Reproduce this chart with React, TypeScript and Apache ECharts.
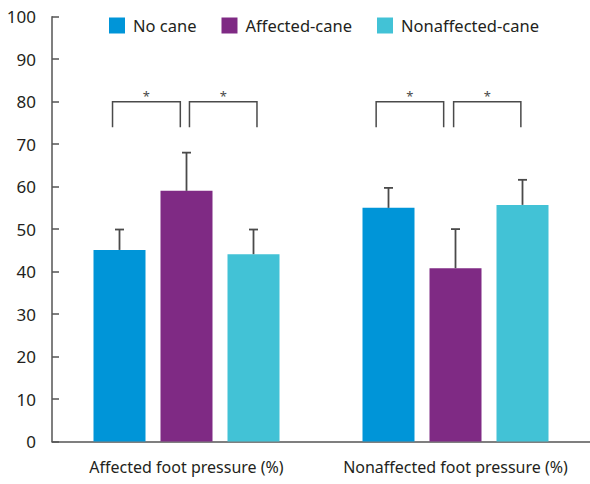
import React, { useEffect, useRef } from "react";
import * as echarts from "echarts";

const categories = ["Affected foot pressure (%)", "Nonaffected foot pressure (%)"];
const seriesNames = ["No cane", "Affected-cane", "Nonaffected-cane"];
const noCane = [45.1, 55.0];
const affectedCane = [59.0, 40.8];
const nonaffectedCane = [44.1, 55.7];
const noCaneErr = [4.8, 4.7];
const affectedCaneErr = [9.0, 9.2];
const nonaffectedCaneErr = [5.8, 5.9];
const yTicks = [0, 100, 10]; // min, max, interval
// [category index, start offset, end offset] in category-band units
const brackets = [
  [0, -0.275, -0.023],
  [0, 0.011, 0.262],
  [1, -0.295, -0.044],
  [1, -0.007, 0.243],
];
const bracketTop = 80;
const bracketLeg = 74;
const bracketLabel = "*";

const colors = ["#0095d8", "#7f2a84", "#42c2d6"];
const FONT = "Noto Sans";
const BAR_W = 52;
const GAP = 15;

export default function App() {
  const ref = useRef<HTMLDivElement>(null);
  useEffect(() => {
    document.body.style.margin = "0";
    const chart = echarts.init(ref.current!, null, { renderer: "svg" });
    const values = [noCane, affectedCane, nonaffectedCane];
    const errs = [noCaneErr, affectedCaneErr, nonaffectedCaneErr];

    const barSeries = values.map((v, i) => ({
      type: "bar",
      name: seriesNames[i],
      data: v,
      barWidth: BAR_W,
      barGap: (GAP / BAR_W) * 100 + "%",
      itemStyle: { color: colors[i] },
      z: 2,
    }));

    const errSeries = values.map((v, i) => ({
      type: "custom",
      name: "err" + i,
      data: v.map((val, k) => [k, val, errs[i][k]]),
      z: 3,
      renderItem: (params: any, api: any) => {
        const cat = api.value(0);
        const val = api.value(1);
        const e = api.value(2);
        const top = api.coord([cat, val + e]);
        const base = api.coord([cat, val]);
        const x = top[0] + (i - 1) * (BAR_W + GAP);
        const style = { stroke: "#4a4a4a", lineWidth: 1.8 };
        return {
          type: "group",
          children: [
            { type: "line", shape: { x1: x, y1: base[1], x2: x, y2: top[1] }, style },
            { type: "line", shape: { x1: x - 4.5, y1: top[1], x2: x + 4.5, y2: top[1] }, style },
          ],
        };
      },
    }));

    const bracketSeries = {
      type: "custom",
      name: "brackets",
      data: brackets,
      z: 4,
      renderItem: (params: any, api: any) => {
        const cat = api.value(0);
        const band = api.size([1, 0])[0];
        const c = api.coord([cat, bracketTop]);
        const leg = api.coord([cat, bracketLeg]);
        const x1 = c[0] + api.value(1) * band;
        const x2 = c[0] + api.value(2) * band;
        const style = { stroke: "#4a4a4a", lineWidth: 1.5, fill: "none" };
        return {
          type: "group",
          children: [
            {
              type: "polyline",
              shape: { points: [[x1, leg[1]], [x1, c[1]], [x2, c[1]], [x2, leg[1]]] },
              style,
            },
            {
              type: "text",
              style: {
                text: bracketLabel,
                x: (x1 + x2) / 2,
                y: c[1] + 1,
                align: "center",
                verticalAlign: "bottom",
                fontSize: 13,
                fontFamily: FONT,
                fill: "#4a4a4a",
              },
            },
          ],
        };
      },
    };

    chart.setOption({
      animation: false,
      textStyle: { fontFamily: FONT },
      legend: {
        data: seriesNames,
        top: 12,
        left: 104,
        itemWidth: 16,
        itemHeight: 16,
        itemGap: 25,
        icon: "rect",
        textStyle: { fontSize: 16.5, color: "#231f20", fontFamily: FONT, padding: [0, 0, 0, 3] },
      },
      grid: { left: 52, right: -2, top: 16.7, bottom: 42.5 },
      xAxis: {
        type: "category",
        data: categories,
        axisTick: { show: false },
        axisLine: { lineStyle: { color: "#555", width: 1.5 } },
        axisLabel: { interval: 0, fontSize: 16, color: "#231f20", margin: 17, fontFamily: FONT },
      },
      yAxis: {
        type: "value",
        min: yTicks[0],
        max: yTicks[1],
        interval: yTicks[2],
        splitLine: { show: false },
        axisLine: { show: true, lineStyle: { color: "#555", width: 1.5 } },
        axisTick: { show: true, inside: true, length: 7, lineStyle: { color: "#555", width: 1.5 } },
        axisLabel: { fontSize: 17, color: "#231f20", margin: 16, fontFamily: FONT },
      },
      series: [...barSeries, ...errSeries, bracketSeries],
    });
    return () => chart.dispose();
  }, []);
  return <div ref={ref} style={{ width: 590, height: 484 }} />;
}
